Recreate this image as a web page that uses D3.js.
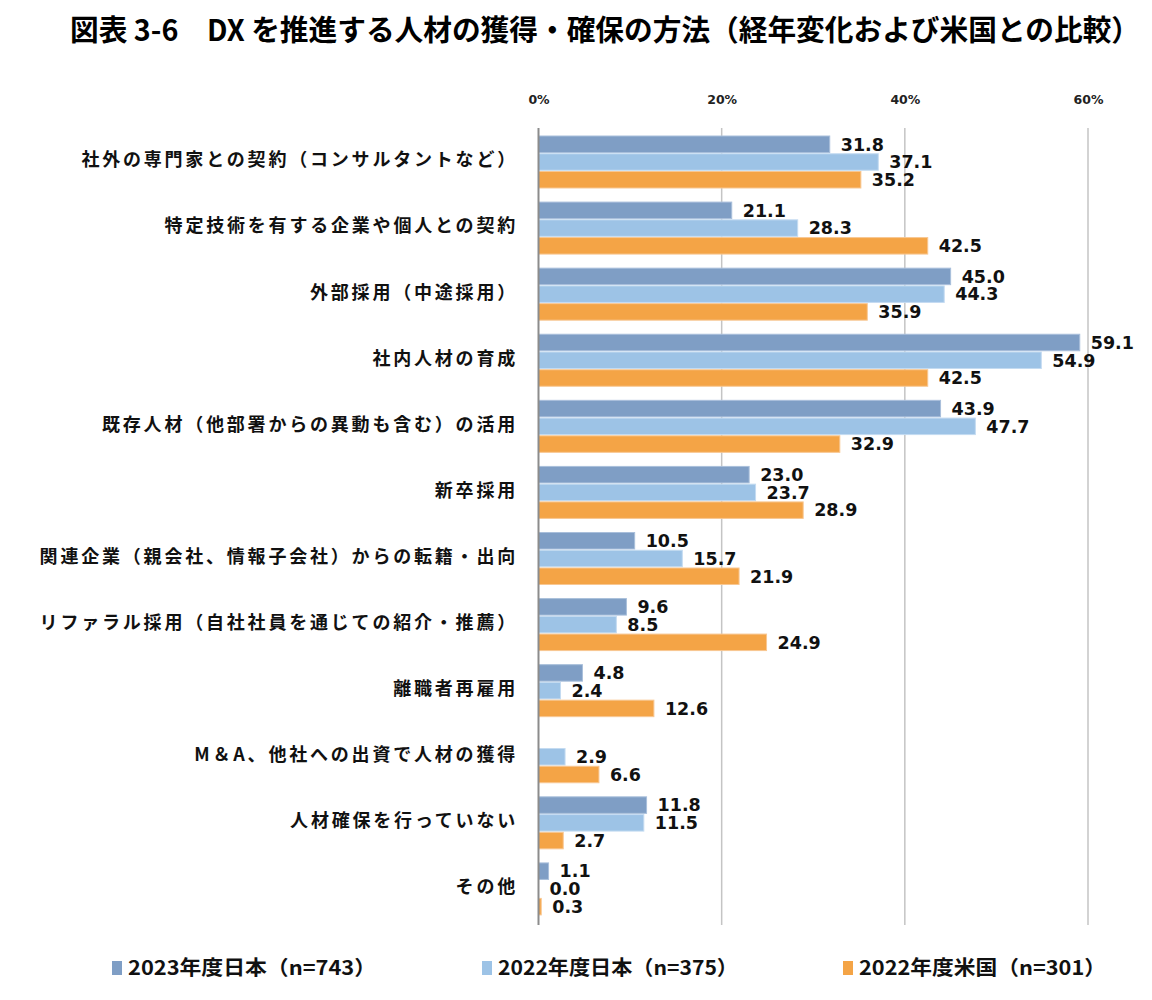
<!DOCTYPE html>
<html><head><meta charset="utf-8">
<script src="https://cdn.jsdelivr.net/npm/d3@7"></script>
<style>
body{margin:0;background:#fff;}
svg{display:block;}
</style></head>
<body>
<svg id="chart" width="1152" height="1000"></svg>
<script>
const categories = [
  "社外の専門家との契約（コンサルタントなど）",
  "特定技術を有する企業や個人との契約",
  "外部採用（中途採用）",
  "社内人材の育成",
  "既存人材（他部署からの異動も含む）の活用",
  "新卒採用",
  "関連企業（親会社、情報子会社）からの転籍・出向",
  "リファラル採用（自社社員を通じての紹介・推薦）",
  "離職者再雇用",
  "M＆A、他社への出資で人材の獲得",
  "人材確保を行っていない",
  "その他"
];
const seriesNames = ["2023年度日本（n=743）", "2022年度日本（n=375）", "2022年度米国（n=301）"];
const jp2023 = [31.8, 21.1, 45.0, 59.1, 43.9, 23.0, 10.5, 9.6, 4.8, null, 11.8, 1.1];
const jp2022 = [37.1, 28.3, 44.3, 54.9, 47.7, 23.7, 15.7, 8.5, 2.4, 2.9, 11.5, 0.0];
const us2022 = [35.2, 42.5, 35.9, 42.5, 32.9, 28.9, 21.9, 24.9, 12.6, 6.6, 2.7, 0.3];
const xTicks = [0, 20, 40, 60];
const tickLabels = ["0%", "20%", "40%", "60%"];
const titleText = "図表 3-6　DX を推進する人材の獲得・確保の方法（経年変化および米国との比較）";

const colors = ["#7f9ec5", "#9dc3e6", "#f4a446"];
const strokes = ["#a9bfdb", "#c4dbf1", "#f8c792"];
const seriesData = [jp2023, jp2022, us2022];

const svg = d3.select("#chart");
const jpFont = "'Noto Sans CJK JP', 'Noto Sans', sans-serif";
const numFont = "'DejaVu Sans', Verdana, sans-serif";

// Title
svg.append("text")
  .attr("x", 70).attr("y", 41)
  .attr("font-family", jpFont).attr("font-weight", 700)
  .attr("font-size", 29).attr("fill", "#000")
  .attr("textLength", 1070).attr("lengthAdjust", "spacingAndGlyphs")
  .text(titleText);

const x = d3.scaleLinear().domain([0, 60]).range([538.5, 1088]);
const y0 = d3.scaleBand().domain(categories).range([129, 922]).padding(0);
const y1 = d3.scaleBand().domain([0, 1, 2]).range([7, 59]).paddingInner(0.07);

// gridlines
svg.append("g").selectAll("line").data(xTicks.filter(d => d > 0)).join("line")
  .attr("x1", d => x(d)).attr("x2", d => x(d))
  .attr("y1", 128).attr("y2", 925)
  .attr("stroke", "#c4c4c4").attr("stroke-width", 1.5);

// top axis labels
const axis = d3.axisTop(x).tickValues(xTicks).tickFormat((d, i) => tickLabels[i]).tickSize(0);
const ag = svg.append("g").attr("transform", "translate(0,107)").call(axis);
ag.select(".domain").remove();
ag.selectAll("text")
  .attr("font-family", numFont).attr("font-weight", 700)
  .attr("font-size", 12.5).attr("fill", "#222").attr("dy", 0);

// bars
const groups = svg.append("g").selectAll("g").data(categories).join("g")
  .attr("transform", d => `translate(0,${y0(d)})`);

groups.each(function(cat, ci) {
  const g = d3.select(this);
  seriesData.forEach((arr, si) => {
    const v = arr[ci];
    if (v === null) return;
    if (v > 0) {
      g.append("rect")
        .attr("x", x(0)).attr("y", y1(si))
        .attr("width", x(v) - x(0)).attr("height", y1.bandwidth())
        .attr("fill", colors[si]).attr("stroke", strokes[si]).attr("stroke-width", 1);
    }
    g.append("text")
      .attr("x", x(v) + 11).attr("y", y1(si) + y1.bandwidth() / 2)
      .attr("dy", "0.36em")
      .attr("font-family", numFont).attr("font-weight", 700)
      .attr("font-size", 17.5).attr("fill", "#111")
      .text(d3.format(".1f")(v));
  });
});

// zero axis line
svg.append("line")
  .attr("x1", x(0)).attr("x2", x(0)).attr("y1", 128).attr("y2", 925)
  .attr("stroke", "#8c8c8c").attr("stroke-width", 2);

// category labels
svg.append("g").selectAll("text").data(categories).join("text")
  .attr("x", 518).attr("y", d => y0(d) + y0.bandwidth() / 2 - 2)
  .attr("dy", "0.35em").attr("text-anchor", "end")
  .attr("font-family", jpFont).attr("font-weight", 700)
  .attr("font-size", 18).attr("letter-spacing", "2.8px").attr("fill", "#111")
  .text(d => d);

// legend
const legendX = [112, 482, 843];
const legendW = [248, 240, 247];
const lg = svg.append("g").selectAll("g").data(seriesNames).join("g")
  .attr("transform", (d, i) => `translate(${legendX[i]},968)`);
lg.append("rect").attr("x", 0).attr("y", -7).attr("width", 10).attr("height", 14)
  .attr("fill", (d, i) => colors[i]);
lg.append("text").attr("x", 16).attr("y", 0).attr("dy", "0.36em")
  .attr("font-family", jpFont).attr("font-weight", 700).attr("font-size", 20)
  .attr("textLength", (d, i) => legendW[i]).attr("lengthAdjust", "spacingAndGlyphs")
  .attr("fill", "#111")
  .text(d => d);
</script>
</body></html>
